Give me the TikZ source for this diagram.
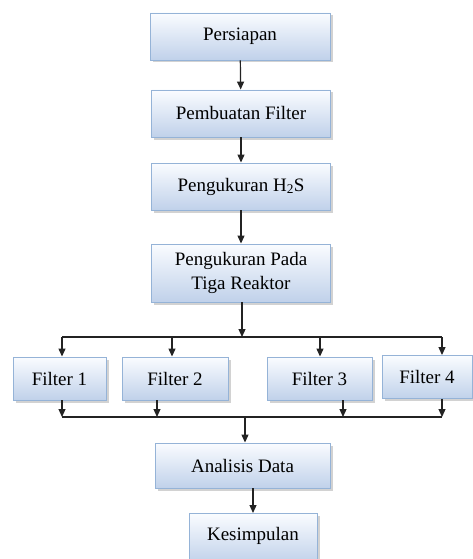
\documentclass[tikz,border=0pt]{standalone}
\usepackage{fontspec}
\setmainfont{Liberation Serif}
\usetikzlibrary{arrows.meta,positioning,shadows}
\definecolor{BX}{RGB}{149,179,215}
\definecolor{BXtop}{RGB}{250,252,255}
\definecolor{BXbot}{RGB}{192,209,234}
\definecolor{LN}{RGB}{35,35,35}
\tikzset{
  % step box, gradient fill
  stepbox/.style={
    draw=BX, line width=0.9pt,
    top color=BXtop, bottom color=BXbot,
    drop shadow={shadow xshift=2.5pt, shadow yshift=-2.5pt, fill=black!35},
    minimum width=179pt, minimum height=47pt,
    align=center, inner sep=0pt, text=black
  },
  % small filter box
  filterbox/.style={
    stepbox, minimum height=43pt
  },
  % connector
  flow/.style={
    -{Triangle[length=8pt,width=7pt]}, line width=1.2pt, LN
  },
  bus/.style={line width=1.3pt, LN},
}

\begin{document}
\begin{tikzpicture}[
  x=1pt, y=-1pt,
  font=\fontsize{19}{23.5}\selectfont,
]
\useasboundingbox (0,0) rectangle (473,559);
\clip (0,0) rectangle (473,559);

% ── Main column ──────────────────────────────────────────────────────────────
\node[stepbox, minimum width=180pt] (prep) at (240,36.5) {Persiapan};
\node[stepbox] (make) at (241,113.5) {Pembuatan Filter};
\node[stepbox] (hts) at (241,186.5) {Pengukuran H\textsubscript{2}S};
\node[stepbox, minimum height=58pt] (reak) at (241,273)
  {Pengukuran Pada\\Tiga Reaktor};

% ── Filters ──────────────────────────────────────────────────────────────────
\node[filterbox, minimum width=93pt]  (fa) at (59.5,378.5) {Filter 1};
\node[filterbox, minimum width=106pt] (fb) at (175,378.5)  {Filter 2};
\node[filterbox, minimum width=105pt] (fc) at (319.5,378.5) {Filter 3};
\node[filterbox, minimum width=90pt]  (fd) at (427,377)    {Filter 4};

% ── Result column ────────────────────────────────────────────────────────────
\node[stepbox, minimum width=175pt, minimum height=45pt] (anal) at (242.5,465.5) {Analisis Data};
\node[stepbox, minimum width=128pt, minimum height=50pt, anchor=north] (conc) at (253,513)
  {\raisebox{10pt}{Kesimpulan}};

% ── Bus points ───────────────────────────────────────────────────────────────
\coordinate (splitL) at (62,337);
\coordinate (splitR) at (442,337);
\coordinate (splitB) at (172,337);
\coordinate (splitC) at (320,337);
\coordinate (split) at (242,337);
\coordinate (joinL) at (62,417);
\coordinate (joinR) at (442,417);
\coordinate (joinB) at (157,417);
\coordinate (joinC) at (343,417);
\coordinate (join) at (245,417);

% ── Arrows ───────────────────────────────────────────────────────────────────
\draw[flow] (prep) -- (make);
\draw[flow] (make) -- (hts);
\draw[flow] (hts) -- (reak);
\draw[flow] (reak.south -| split) -- (split);

\draw[bus] (splitL) -- (splitR);
\draw[flow] (splitL) -- (splitL |- fa.north);
\draw[flow] (splitB) -- (splitB |- fb.north);
\draw[flow] (splitC) -- (splitC |- fc.north);
\draw[flow] (splitR) -- (splitR |- fd.north);

\draw[flow] (fa.south -| joinL) -- (joinL);
\draw[flow] (fb.south -| joinB) -- (joinB);
\draw[flow] (fc.south -| joinC) -- (joinC);
\draw[flow] (fd.south -| joinR) -- (joinR);
\draw[bus] (joinL) -- (joinR);

\draw[flow] (join) -- (join |- anal.north);
\draw[flow] (anal.south -| conc) -- (conc);

\end{tikzpicture}
\end{document}
